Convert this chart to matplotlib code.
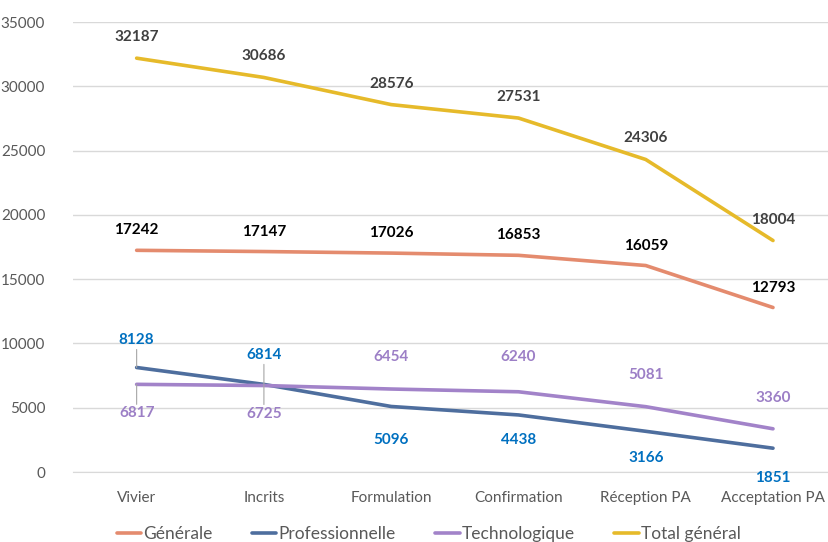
import numpy as np
import matplotlib
matplotlib.use('Agg')
import matplotlib.pyplot as plt

plt.rcParams['font.family'] = ['Lato', 'DejaVu Sans']

categories = ['Vivier', 'Incrits', 'Formulation', 'Confirmation', 'Réception PA', 'Acceptation PA']
generale = [17242, 17147, 17026, 16853, 16059, 12793]
professionnelle = [8128, 6814, 5096, 4438, 3166, 1851]
technologique = [6817, 6725, 6454, 6240, 5081, 3360]
total = [32187, 30686, 28576, 27531, 24306, 18004]

# décalage des étiquettes (en pixels, + = au-dessus)
off_gen = [20, 20, 20, 20, 20, 20]
off_pro = [27, 29, -34, -25, -27, -30]
off_tech = [-29, -28, 32, 35, 32, 31]
off_tot = [21, 21, 21, 21, 21, 21]

c_gen = '#E48B6E'
c_pro = '#4E6E9E'
c_tech = '#A283C9'
c_tot = '#E6BA2A'

fig = plt.figure(figsize=(8.29, 5.42), dpi=100)
ax = fig.add_axes([73/829, 70/542, 1 - 73/829, 450/542])

x = np.arange(len(categories))
ax.plot(x, generale, color=c_gen, lw=2.6, label='Générale', solid_capstyle='round')
ax.plot(x, professionnelle, color=c_pro, lw=2.6, label='Professionnelle', solid_capstyle='round')
ax.plot(x, technologique, color=c_tech, lw=2.6, label='Technologique', solid_capstyle='round')
ax.plot(x, total, color=c_tot, lw=2.6, label='Total général', solid_capstyle='round')

def labels(vals, offs, color, leader=False):
    for i, (v, o) in enumerate(zip(vals, offs)):
        ax.annotate(str(v), (i, v), xytext=(0, o * 0.72), textcoords='offset points',
                    ha='center', va='center', fontsize=11, fontweight='bold', color=color)
        if leader and i < 2:
            sign = 1 if o > 0 else -1
            ax.annotate('', (i, v), xytext=(0, (o - sign * 9) * 0.72), textcoords='offset points',
                        arrowprops=dict(arrowstyle='-', color='#A6A6A6', lw=0.8, shrinkA=0, shrinkB=0))

labels(total, off_tot, '#404040')
labels(generale, off_gen, '#000000')
labels(professionnelle, off_pro, '#0070C0', leader=True)
labels(technologique, off_tech, '#9C7FC6', leader=True)

ax.set_ylim(0, 35000)
ax.set_yticks(range(0, 35001, 5000))
ax.set_xlim(-0.5, 5.44)
ax.set_xticks(x)
ax.set_xticklabels(categories)
ax.grid(axis='y', color='#D9D9D9', lw=1)
ax.set_axisbelow(True)
for s in ['top', 'right', 'left']:
    ax.spines[s].set_visible(False)
ax.spines['bottom'].set_color('#D9D9D9')
ax.tick_params(axis='both', length=0, colors='#595959', labelsize=11)
ax.tick_params(axis='x', pad=14)
ax.yaxis.set_tick_params(pad=20)

fig.legend(loc='center', bbox_to_anchor=(0.517, 0.015), ncol=4, frameon=False,
           fontsize=12.5, handlelength=1.4, handletextpad=0.1, columnspacing=2.3,
           labelcolor='#595959')

fig.savefig('out.png', dpi=100)
